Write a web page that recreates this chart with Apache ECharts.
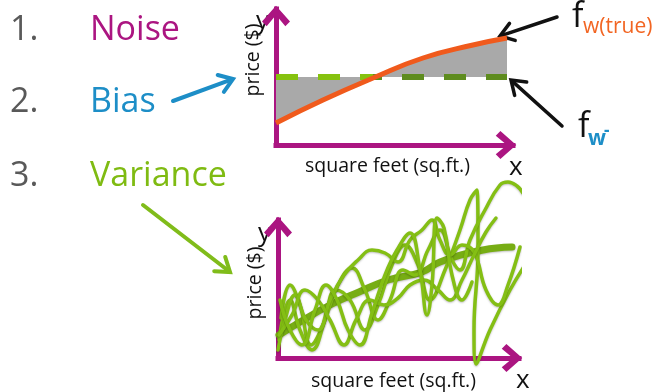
<!DOCTYPE html>
<html>
<head>
<meta charset="utf-8">
<script src="https://cdn.jsdelivr.net/npm/echarts@6/dist/echarts.min.js"></script>
<style>
html,body{margin:0;padding:0;background:#fff;}
#main{width:664px;height:392px;}
</style>
</head>
<body>
<div id="main"></div>
<script>
// ---- top sketch: true function vs. average fit (units of the sketch axes)
var topX = [0, 47, 97, 147, 197, 231];
var trueY = [22, 45, 67, 87, 100, 107];
var avgY = 68;

// ---- bottom sketch: fits from different training sets
var fit1 = [[3,40],[12,73],[22,53],[33,13],[45,33],[58,68],[72,58],[87,28],[100,53],[114,93],[127,113],[140,93],[152,58],[167,88],[182,128],[192,158],[199,168],[200,108],[196,28],[198,-6],[212,28],[232,68],[247,93]];
var fit2 = [[1,18],[12,58],[22,28],[34,8],[47,38],[60,73],[74,90],[87,68],[100,38],[112,58],[125,88],[137,83],[150,108],[162,128],[174,98],[182,88],[192,118],[207,148],[222,173],[230,176],[239,172],[245,165]];
var fit3 = [[0,8],[7,38],[17,63],[28,38],[40,28],[52,58],[66,83],[80,98],[94,108],[107,105],[120,96],[132,118],[144,128],[154,138],[162,118],[172,103],[184,113],[196,106],[208,68],[220,53],[230,73],[242,111]];
var fit4 = [[1,23],[14,43],[27,68],[40,58],[52,38],[66,13],[78,38],[92,58],[106,53],[120,60],[132,73],[146,78],[160,68],[172,58],[184,78],[196,103],[208,126],[218,140]];
var fit5 = [[2,58],[12,28],[24,13],[37,48],[48,73],[59,58],[70,28],[82,13],[94,45],[107,83],[119,108],[132,125],[142,88],[149,43],[154,73],[159,140],[166,130],[174,83],[184,58],[194,76]];
var meanFit = [[1,23],[22,36],[52,53],[81,66],[110,78],[144,86],[162,96],[205,108],[234,111]];

var magenta = '#ab1581';
var green = '#84bf14';
var font = '"Open Sans", sans-serif';
var chevron = 'path://M15,0L30,17L25,22L15,10L5,22L0,17Z';

function axisLine() {
    return {
        show: true,
        onZero: false,
        symbol: ['none', chevron],
        symbolSize: [28, 22],
        symbolOffset: [0, -7],
        lineStyle: {color: magenta, width: 5, cap: 'square'}
    };
}

function arrow(x1, y1, x2, y2, color, w) {
    var dx = x2 - x1, dy = y2 - y1, len = Math.sqrt(dx * dx + dy * dy);
    var ux = dx / len, uy = dy / len;
    var hl = 13, hw = 9;
    return [
        {type: 'line', shape: {x1: x1, y1: y1, x2: x2 - ux * 2, y2: y2 - uy * 2},
            style: {stroke: color, lineWidth: w, lineCap: 'round'}},
        {type: 'polyline', shape: {points: [
            [x2 - ux * hl - uy * hw, y2 - uy * hl + ux * hw], [x2, y2],
            [x2 - ux * hl + uy * hw, y2 - uy * hl - ux * hw]]},
            style: {stroke: color, lineWidth: w, lineCap: 'round', lineJoin: 'miter'}}
    ];
}

function txt(s, x, y, size, color, extra) {
    var st = {text: s, fontSize: size, fontFamily: font, fill: color, align: 'left', verticalAlign: 'middle'};
    for (var k in extra) st[k] = extra[k];
    return {type: 'text', x: x, y: y, style: st};
}

var graphics = [
    txt('1.', 10, 30, 34, '#595959'),
    txt('Noise', 90, 30, 34, magenta),
    txt('2.', 10, 102, 34, '#595959'),
    txt('Bias', 90, 102, 34, '#1d8ec7'),
    txt('3.', 10, 176, 34, '#595959'),
    txt('Variance', 90, 176, 34, '#7fbb12'),
    txt('y', 256, 22, 26, '#111'),
    txt('x', 509, 168, 26, '#111'),
    txt('y', 258, 234, 26, '#111'),
    txt('x', 516, 381, 26, '#111'),
    txt('f', 572, 17, 34, '#111'),
    txt('w(true)', 583, 27, 21, '#f26522'),
    txt('f', 578, 127, 34, '#111'),
    txt('w', 588, 139, 21, '#1d8ec7', {fontWeight: 'bold'}),
    txt('-', 604, 131, 17, '#1d8ec7', {fontWeight: 'bold'})
];
graphics = graphics
    .concat(arrow(557, 17, 500, 36, '#111', 3.5))
    .concat(arrow(562, 126, 511, 80, '#111', 3.5))
    .concat(arrow(173, 101, 233, 79, '#1d8ec7', 4))
    .concat(arrow(143, 205, 230, 272, '#80bc1a', 4));

function fitSeries(data, width, color) {
    return {
        type: 'line', xAxisIndex: 1, yAxisIndex: 1, data: data,
        smooth: 0.45, showSymbol: false, clip: false, silent: true,
        lineStyle: {color: color, width: width, cap: 'round',
            shadowBlur: 2, shadowColor: 'rgba(0,0,0,0.25)', shadowOffsetY: 1}
    };
}

var truePts = topX.map(function (x, i) { return [x, trueY[i]]; });
var avgPts = [[topX[0], avgY], [topX[topX.length - 1], avgY]];

var chart = echarts.init(document.getElementById('main'));
chart.setOption({
    animation: false,
    backgroundColor: '#fff',
    grid: [
        {left: 276, top: 9, width: 237, height: 136},
        {left: 278, top: 220, width: 241, height: 138}
    ],
    xAxis: [0, 1].map(function (i) {
        return {
            type: 'value', gridIndex: i, min: 0, max: i ? 241 : 237,
            name: 'square feet (sq.ft.)', nameLocation: 'middle', nameGap: i ? 13 : 11,
            nameTextStyle: {fontSize: 19.5, fontFamily: font, color: '#111', padding: [0, i ? 10 : 14, 0, 0]},
            axisLine: axisLine(), axisTick: {show: false}, axisLabel: {show: false}, splitLine: {show: false}
        };
    }),
    yAxis: [0, 1].map(function (i) {
        return {
            type: 'value', gridIndex: i, min: 0, max: i ? 138 : 136,
            name: 'price ($)', nameLocation: 'middle', nameGap: 13,
            nameTextStyle: {fontSize: 19.5, fontFamily: font, color: '#111', padding: [0, 0, 0, i ? 12 : 34]},
            axisLine: axisLine(), axisTick: {show: false}, axisLabel: {show: false}, splitLine: {show: false}
        };
    }),
    series: [
        {
            type: 'line', data: truePts, smooth: true, showSymbol: false, z: 1,
            lineStyle: {width: 0},
            areaStyle: {origin: avgY, color: '#a9a9a9', opacity: 1}
        },
        {
            type: 'line', data: avgPts, showSymbol: false, z: 2,
            lineStyle: {
                width: 6, type: [22, 20],
                color: new echarts.graphic.LinearGradient(0, 0, 1, 0, [
                    {offset: 0, color: '#86c20f'}, {offset: 0.42, color: '#86c20f'},
                    {offset: 0.42, color: '#5e8c1e'}, {offset: 1, color: '#5e8c1e'}])
            }
        },
        {
            type: 'line', data: truePts, smooth: true, showSymbol: false, z: 3,
            lineStyle: {width: 5, color: '#f05a1c'}
        },
        fitSeries(meanFit, 7, '#77ad14'),
        fitSeries(fit1, 3.5, green),
        fitSeries(fit2, 3.5, green),
        fitSeries(fit3, 3.5, green),
        fitSeries(fit4, 3.5, green),
        fitSeries(fit5, 3.5, green)
    ],
    graphic: graphics
});
</script>
</body>
</html>
